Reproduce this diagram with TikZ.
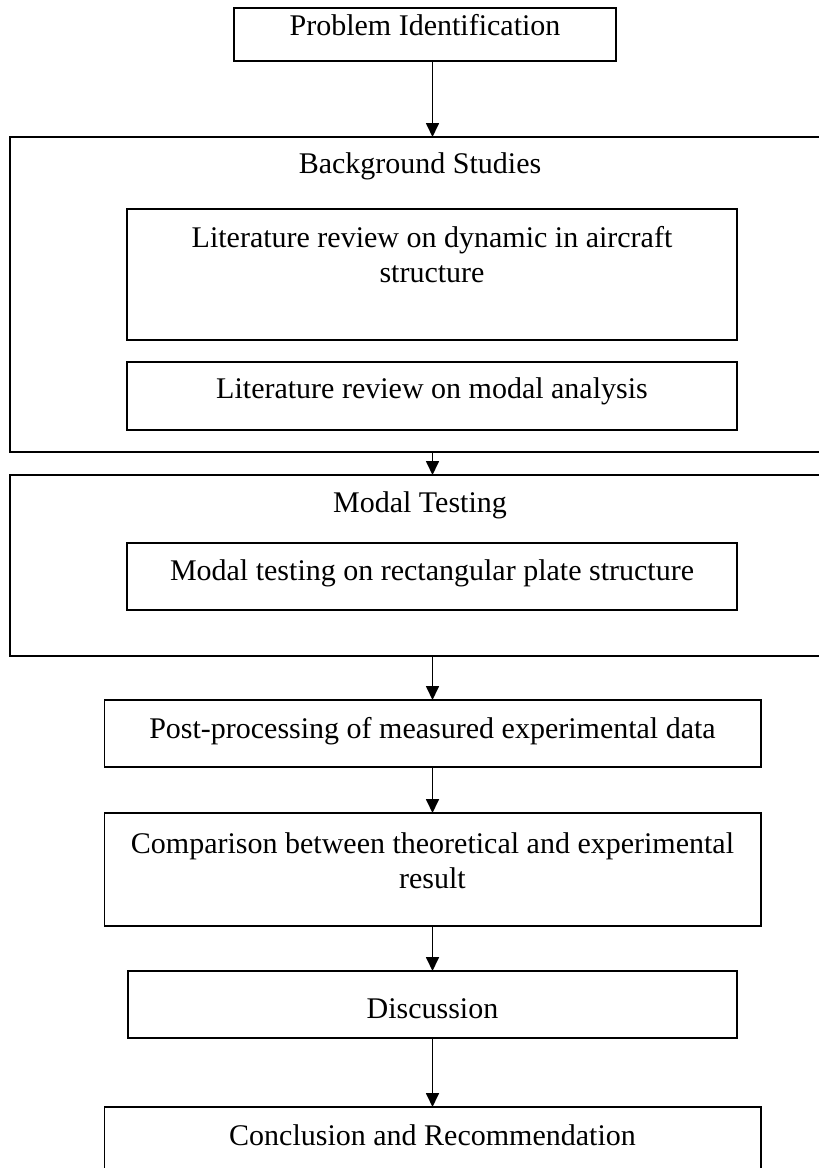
\documentclass[tikz,border=0pt]{standalone}
\usepackage{fontspec}
\setmainfont{Liberation Serif}
\usetikzlibrary{arrows.meta}
\begin{document}
\begin{tikzpicture}[x=1pt,y=-1pt,
  box/.style={draw, line width=1.7pt, rectangle, anchor=north west, inner sep=0pt, outer sep=0pt},
  lbl/.style={anchor=base, inner sep=0pt, font=\fontsize{30}{35}\selectfont, align=center},
  arr/.style={line width=1.7pt, -{Triangle[length=14pt,width=13pt]}}]
\useasboundingbox (0,0) rectangle (819,1168);
\clip (0,0) rectangle (819,1168);
\coordinate (axis) at (432.5,0);
% boxes
\node[box, minimum width=382pt, minimum height=53pt] (prob) at (234,8) {};
\node[box, minimum width=820pt, minimum height=315pt] (bg) at (10,137) {};
\node[box, minimum width=610pt, minimum height=131pt] (lit1) at (127,209) {};
\node[box, minimum width=610pt, minimum height=68pt] (lit2) at (127,362) {};
\node[box, minimum width=820pt, minimum height=181pt] (mt) at (10,475) {};
\node[box, minimum width=610pt, minimum height=67pt] (mtr) at (127,543) {};
\node[box, minimum width=656.5pt, minimum height=67pt] (post) at (104.5,700) {};
\node[box, minimum width=656.5pt, minimum height=113pt] (comp) at (104.5,813) {};
\node[box, minimum width=609pt, minimum height=67pt] (disc) at (128,971) {};
\node[box, minimum width=656.5pt, minimum height=90pt] (concl) at (104.5,1107) {};
% texts
\node[lbl] (tprob) at (425,35) {Problem Identification};
\node[lbl] (tbg) at (420,173) {Background Studies};
\node[lbl] (tlit1) at (432,282) {Literature review on dynamic in aircraft\\structure};
\node[lbl] (tlit2) at (432,398) {Literature review on modal analysis};
\node[lbl] (tmt) at (420,512) {Modal Testing};
\node[lbl] (tmtr) at (432,580) {Modal testing on rectangular plate structure};
\node[lbl] (tpost) at (432.5,738) {Post-processing of measured experimental data};
\node[lbl] (tcomp) at (432.5,888) {Comparison between theoretical and experimental\\result};
\node[lbl] (tdisc) at (432.5,1018) {Discussion};
\node[lbl] (tconcl) at (432.5,1145) {Conclusion and Recommendation};
% arrows
\draw[arr] (prob.south -| axis) -- (bg.north -| axis);
\draw[arr] (bg.south -| axis) -- (mt.north -| axis);
\draw[arr] (mt.south -| axis) -- (post.north -| axis);
\draw[arr] (post.south -| axis) -- (comp.north -| axis);
\draw[arr] (comp.south -| axis) -- (disc.north -| axis);
\draw[arr] (disc.south -| axis) -- (concl.north -| axis);
\end{tikzpicture}
\end{document}
